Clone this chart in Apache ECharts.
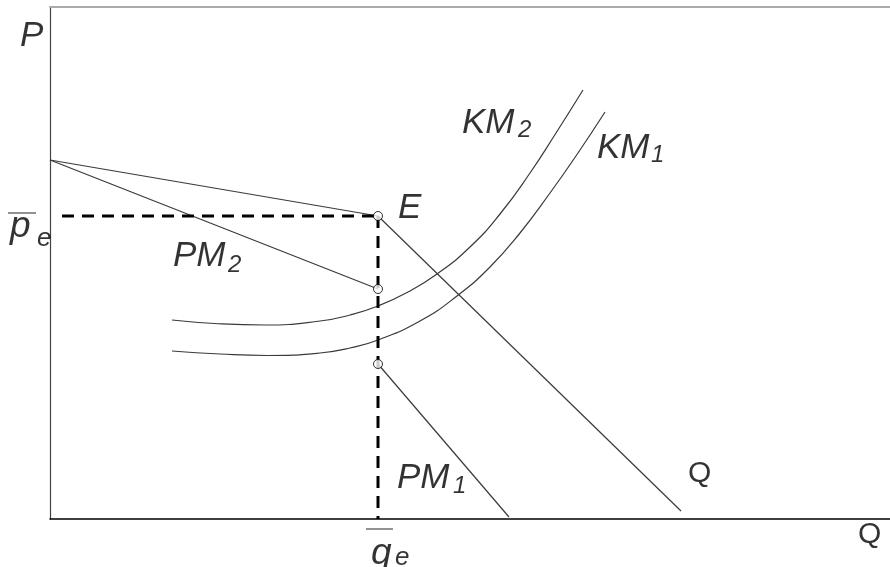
<!DOCTYPE html>
<html>
<head>
<meta charset="utf-8">
<script src="https://cdn.jsdelivr.net/npm/echarts@6/dist/echarts.min.js"></script>
<style>
  html, body { margin: 0; padding: 0; background: #fff; }
  #chart { width: 890px; height: 567px; }
</style>
</head>
<body>
<div id="chart"></div>
<script>
// Price / quantity diagram: marginal cost curves KM1, KM2, marginal revenue PM1, PM2,
// demand Q and the equilibrium point E with its projections onto both axes.

// Curves (quantity, price)
const km2 = [[122,199],[165,195.5],[215,194],[270,198],[300,204],[328,213],[358,227],[387,245],[420,272],[450,305],[480,346],[506,386],[533,429]];
const km1 = [[122,168],[170,165],[217,163.5],[270,166],[300,171],[328,179],[370,198],[407,223],[440,252],[470,286],[500,326],[528,366],[555,407]];
const pm2Upper = [[0,359],[328,303]];
const pm2Lower = [[0,359],[328,230]];
const demandQ = [[328,303],[631,8]];
const pm1 = [[328,155],[459,2]];

// Equilibrium
const qe = 328;
const pe = 303;
const markedPoints = [[328,303],[328,230],[328,155]];

// Text labels: [text, quantity, price]
const bigLabels = [['P',-30,483],['E',348,311]];
const curveLabels = [['PM',123,263],['KM',412,396],['KM',547,371],['PM',347,41]];
const subLabels = [['2',178,254],['2',468,389],['1',601,364],['1',403,33]];
const plainLabels = [['Q',638,45],['Q',808,-16]];
const lowerLabels = [['p',-40,292],['q',321,-35]];
const lowerSubs = [['e',-13,280],['e',345,-39]];
// Bars over p and q: [centre quantity, centre price, length]
const overbars = [[-28,306,28],[329.5,-10,27]];

const FONT = '"Liberation Sans", Arial, sans-serif';
const curveStyle = { color: '#3a3a3a', width: 1.2 };

function lineSeries(data, extra) {
  return Object.assign({
    type: 'line', data: data, symbol: 'none', silent: true, clip: false,
    lineStyle: curveStyle, animation: false
  }, extra || {});
}

function textSeries(items, size, italic) {
  return {
    type: 'scatter', symbolSize: 0, silent: true, clip: false, animation: false,
    data: items.map(function (it) {
      return {
        value: [it[1], it[2]],
        label: {
          show: true, formatter: it[0], position: 'inside',
          align: 'left', verticalAlign: 'middle',
          fontFamily: FONT, fontSize: size,
          fontStyle: italic ? 'italic' : 'normal',
          color: '#000'
        }
      };
    })
  };
}

const series = [
  lineSeries(km2, { smooth: 0.5 }),
  lineSeries(km1, { smooth: 0.5 }),
  lineSeries(pm2Upper),
  lineSeries(pm2Lower),
  lineSeries(demandQ),
  lineSeries(pm1),
  lineSeries([[12, pe],[qe, pe]], { lineStyle: { color: '#000', width: 3, type: [12, 8] } }),
  lineSeries([[qe, pe],[qe, 0]], { lineStyle: { color: '#000', width: 3, type: [12, 8] } }),
  {
    type: 'scatter', data: markedPoints, symbol: 'circle', symbolSize: 9,
    itemStyle: { color: '#fff', borderColor: '#000', borderWidth: 1 },
    silent: true, animation: false, z: 5
  },
  {
    type: 'scatter', symbol: 'rect', silent: true, clip: false, animation: false,
    itemStyle: { color: '#555' },
    data: overbars.map(function (b) {
      return { value: [b[0], b[1]], symbolSize: [b[2], 1.6] };
    })
  },
  textSeries(bigLabels, 35, true),
  textSeries(curveLabels, 35, true),
  textSeries(subLabels, 24, true),
  textSeries(plainLabels, 30, false),
  textSeries(lowerLabels, 37, true),
  textSeries(lowerSubs, 26, true)
];

const chart = echarts.init(document.getElementById('chart'), null, { renderer: 'canvas' });
chart.setOption({
  backgroundColor: '#fff',
  animation: false,
  grid: { left: 50, right: 0, top: 7, bottom: 48 },
  xAxis: [
    {
      type: 'value', min: 0, max: 840, position: 'bottom',
      axisLine: { show: true, lineStyle: { color: '#000', width: 1.5 } },
      axisTick: { show: false }, axisLabel: { show: false }, splitLine: { show: false }
    },
    {
      type: 'value', min: 0, max: 840, position: 'top',
      axisLine: { show: true, lineStyle: { color: '#aaa', width: 2 } },
      axisTick: { show: false }, axisLabel: { show: false }, splitLine: { show: false }
    }
  ],
  yAxis: {
    type: 'value', min: 0, max: 512,
    axisLine: { show: true, onZero: false, lineStyle: { color: '#444', width: 1.2 } },
    axisTick: { show: false }, axisLabel: { show: false }, splitLine: { show: false }
  },
  series: series
});
</script>
</body>
</html>
